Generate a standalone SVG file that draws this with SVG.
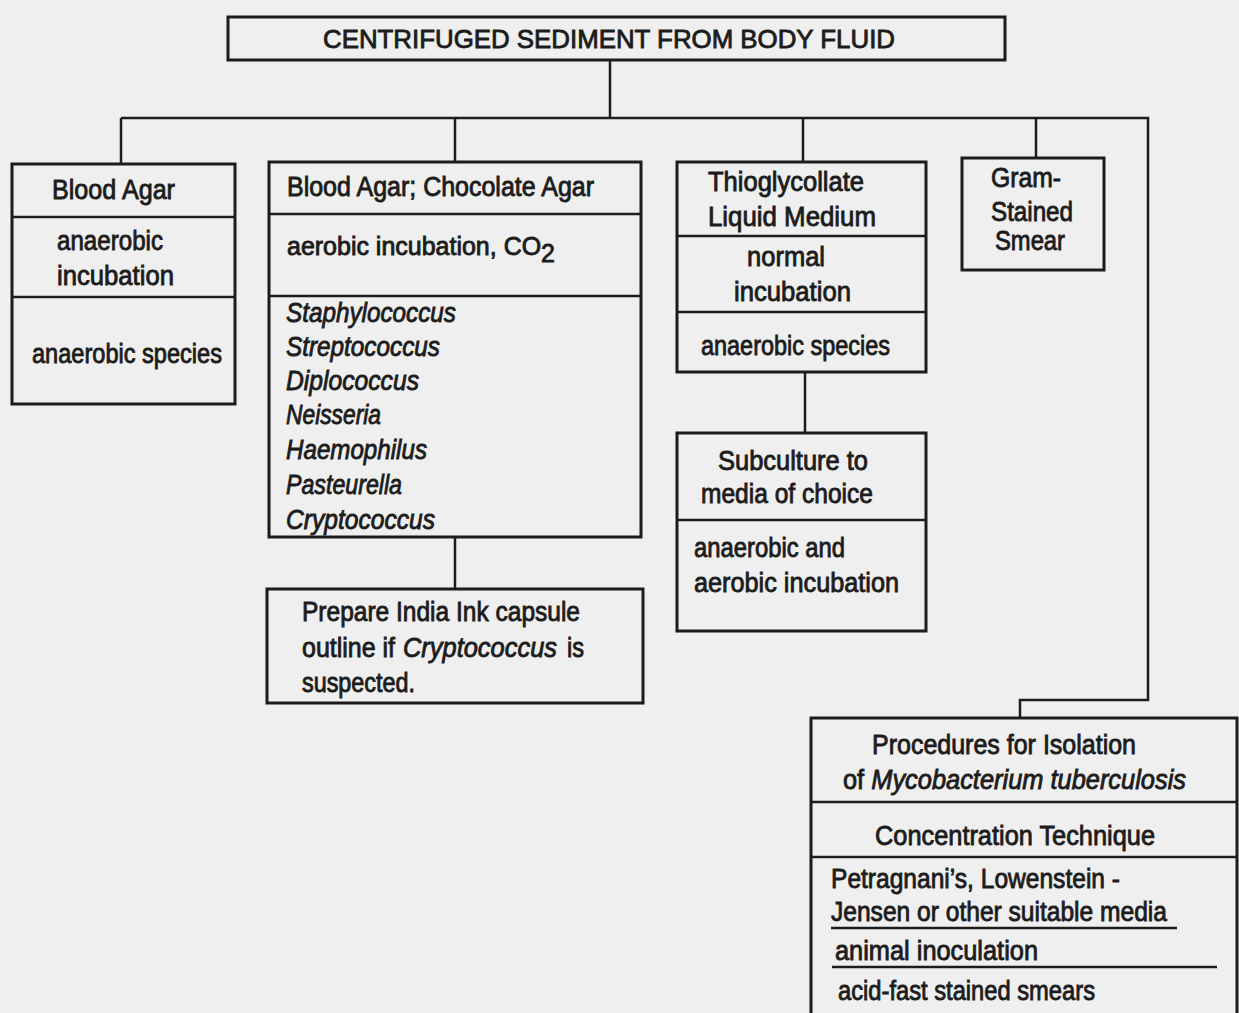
<svg xmlns="http://www.w3.org/2000/svg" width="1239" height="1013" viewBox="0 0 1239 1013">
  <style>
    .box { fill: none; stroke: #1c1c1c; stroke-width: 3; }
    .div { stroke: #1c1c1c; stroke-width: 2.5; }
    .ln { fill: none; stroke: #1c1c1c; stroke-width: 2.5; }
    text { font-family: "Liberation Sans", Arial, sans-serif; font-size: 27px; fill: #1c1c1c; stroke: #1c1c1c; stroke-width: 0.85; }
    .it { font-style: italic; }
    .title { font-size: 26px; }
  </style>
  <rect width="1239" height="1013" fill="#efefef"/>

  <!-- connectors -->
  <g id="connectors">
    <path class="ln" d="M610 60 V118"/>
    <path class="ln" d="M121 118 H1148 V700 H1020 V718"/>
    <path class="ln" d="M121 118 V164"/>
    <path class="ln" d="M455 118 V162"/>
    <path class="ln" d="M803 118 V162"/>
    <path class="ln" d="M1036 118 V158"/>
    <path class="ln" d="M455 537 V589"/>
    <path class="ln" d="M805 372 V433"/>
  </g>

  <!-- root -->
  <g id="root">
    <rect class="box" x="228" y="17" width="777" height="43"/>
    <text class="title" x="323" y="48" textLength="572" lengthAdjust="spacingAndGlyphs">CENTRIFUGED SEDIMENT FROM BODY FLUID</text>
  </g>

  <!-- blood agar, anaerobic -->
  <g id="blood-agar">
    <rect class="box" x="12" y="164" width="223" height="240"/>
    <line class="div" x1="12" y1="217" x2="235" y2="217"/>
    <line class="div" x1="12" y1="297" x2="235" y2="297"/>
    <text x="52" y="199" textLength="123" lengthAdjust="spacingAndGlyphs">Blood Agar</text>
    <text x="57" y="250" textLength="106" lengthAdjust="spacingAndGlyphs">anaerobic</text>
    <text x="57" y="285" textLength="117" lengthAdjust="spacingAndGlyphs">incubation</text>
    <text x="32" y="363" textLength="190" lengthAdjust="spacingAndGlyphs">anaerobic species</text>
  </g>

  <!-- blood agar / chocolate agar, aerobic -->
  <g id="chocolate-agar">
    <rect class="box" x="269" y="162" width="372" height="375"/>
    <line class="div" x1="269" y1="214" x2="641" y2="214"/>
    <line class="div" x1="269" y1="296" x2="641" y2="296"/>
    <text x="287" y="196" textLength="307" lengthAdjust="spacingAndGlyphs">Blood Agar; Chocolate Agar</text>
    <text x="287" y="255" style="font-size:25px" textLength="268" lengthAdjust="spacingAndGlyphs">aerobic incubation, CO<tspan dy="7">2</tspan></text>
    <text class="it" x="286" y="322" textLength="170" lengthAdjust="spacingAndGlyphs">Staphylococcus</text>
    <text class="it" x="286" y="356" textLength="154" lengthAdjust="spacingAndGlyphs">Streptococcus</text>
    <text class="it" x="286" y="390" textLength="133" lengthAdjust="spacingAndGlyphs">Diplococcus</text>
    <text class="it" x="286" y="424" textLength="95" lengthAdjust="spacingAndGlyphs">Neisseria</text>
    <text class="it" x="286" y="459" textLength="141" lengthAdjust="spacingAndGlyphs">Haemophilus</text>
    <text class="it" x="286" y="494" textLength="116" lengthAdjust="spacingAndGlyphs">Pasteurella</text>
    <text class="it" x="286" y="529" textLength="149" lengthAdjust="spacingAndGlyphs">Cryptococcus</text>
  </g>

  <!-- india ink -->
  <g id="india-ink">
    <rect class="box" x="267" y="589" width="376" height="114"/>
    <text x="302" y="621" textLength="278" lengthAdjust="spacingAndGlyphs">Prepare India Ink capsule</text>
    <text x="302" y="657" textLength="93" lengthAdjust="spacingAndGlyphs">outline if</text>
    <text class="it" x="403" y="657" textLength="154" lengthAdjust="spacingAndGlyphs">Cryptococcus</text>
    <text x="567" y="657" textLength="17" lengthAdjust="spacingAndGlyphs">is</text>
    <text x="302" y="692" textLength="113" lengthAdjust="spacingAndGlyphs">suspected.</text>
  </g>

  <!-- thioglycollate -->
  <g id="thioglycollate">
    <rect class="box" x="677" y="162" width="249" height="210"/>
    <line class="div" x1="677" y1="236" x2="926" y2="236"/>
    <line class="div" x1="677" y1="312" x2="926" y2="312"/>
    <text x="708" y="191" textLength="156" lengthAdjust="spacingAndGlyphs">Thioglycollate</text>
    <text x="708" y="226" textLength="168" lengthAdjust="spacingAndGlyphs">Liquid Medium</text>
    <text x="747" y="266" textLength="78" lengthAdjust="spacingAndGlyphs">normal</text>
    <text x="734" y="301" textLength="117" lengthAdjust="spacingAndGlyphs">incubation</text>
    <text x="701" y="355" textLength="189" lengthAdjust="spacingAndGlyphs">anaerobic species</text>
  </g>

  <!-- subculture -->
  <g id="subculture">
    <rect class="box" x="677" y="433" width="249" height="198"/>
    <line class="div" x1="677" y1="520" x2="926" y2="520"/>
    <text x="718" y="470" textLength="150" lengthAdjust="spacingAndGlyphs">Subculture to</text>
    <text x="701" y="503" textLength="172" lengthAdjust="spacingAndGlyphs">media of choice</text>
    <text x="694" y="557" textLength="151" lengthAdjust="spacingAndGlyphs">anaerobic and</text>
    <text x="694" y="592" textLength="205" lengthAdjust="spacingAndGlyphs">aerobic incubation</text>
  </g>

  <!-- gram stain -->
  <g id="gram-smear">
    <rect class="box" x="962" y="158" width="142" height="112"/>
    <text x="991" y="187" textLength="70" lengthAdjust="spacingAndGlyphs">Gram-</text>
    <text x="991" y="221" textLength="82" lengthAdjust="spacingAndGlyphs">Stained</text>
    <text x="995" y="250" textLength="70" lengthAdjust="spacingAndGlyphs">Smear</text>
  </g>

  <!-- mycobacterium procedures -->
  <g id="mycobacterium">
    <path class="box" d="M811 1015 V718 H1237 V1015"/>
    <line class="div" x1="811" y1="802" x2="1237" y2="802"/>
    <line class="div" x1="811" y1="857" x2="1237" y2="857"/>
    <line class="div" x1="831" y1="928" x2="1177" y2="928"/>
    <line class="div" x1="832" y1="967" x2="1217" y2="967"/>
    <text x="872" y="754" textLength="264" lengthAdjust="spacingAndGlyphs">Procedures for Isolation</text>
    <text x="843" y="789" textLength="343" lengthAdjust="spacingAndGlyphs">of <tspan class="it">Mycobacterium tuberculosis</tspan></text>
    <text x="875" y="845" textLength="280" lengthAdjust="spacingAndGlyphs">Concentration Technique</text>
    <text x="831" y="888" textLength="289" lengthAdjust="spacingAndGlyphs">Petragnani’s, Lowenstein -</text>
    <text x="831" y="921" textLength="336" lengthAdjust="spacingAndGlyphs">Jensen or other suitable media</text>
    <text x="835" y="960" textLength="203" lengthAdjust="spacingAndGlyphs">animal inoculation</text>
    <text x="838" y="1000" textLength="257" lengthAdjust="spacingAndGlyphs">acid-fast stained smears</text>
  </g>
</svg>
